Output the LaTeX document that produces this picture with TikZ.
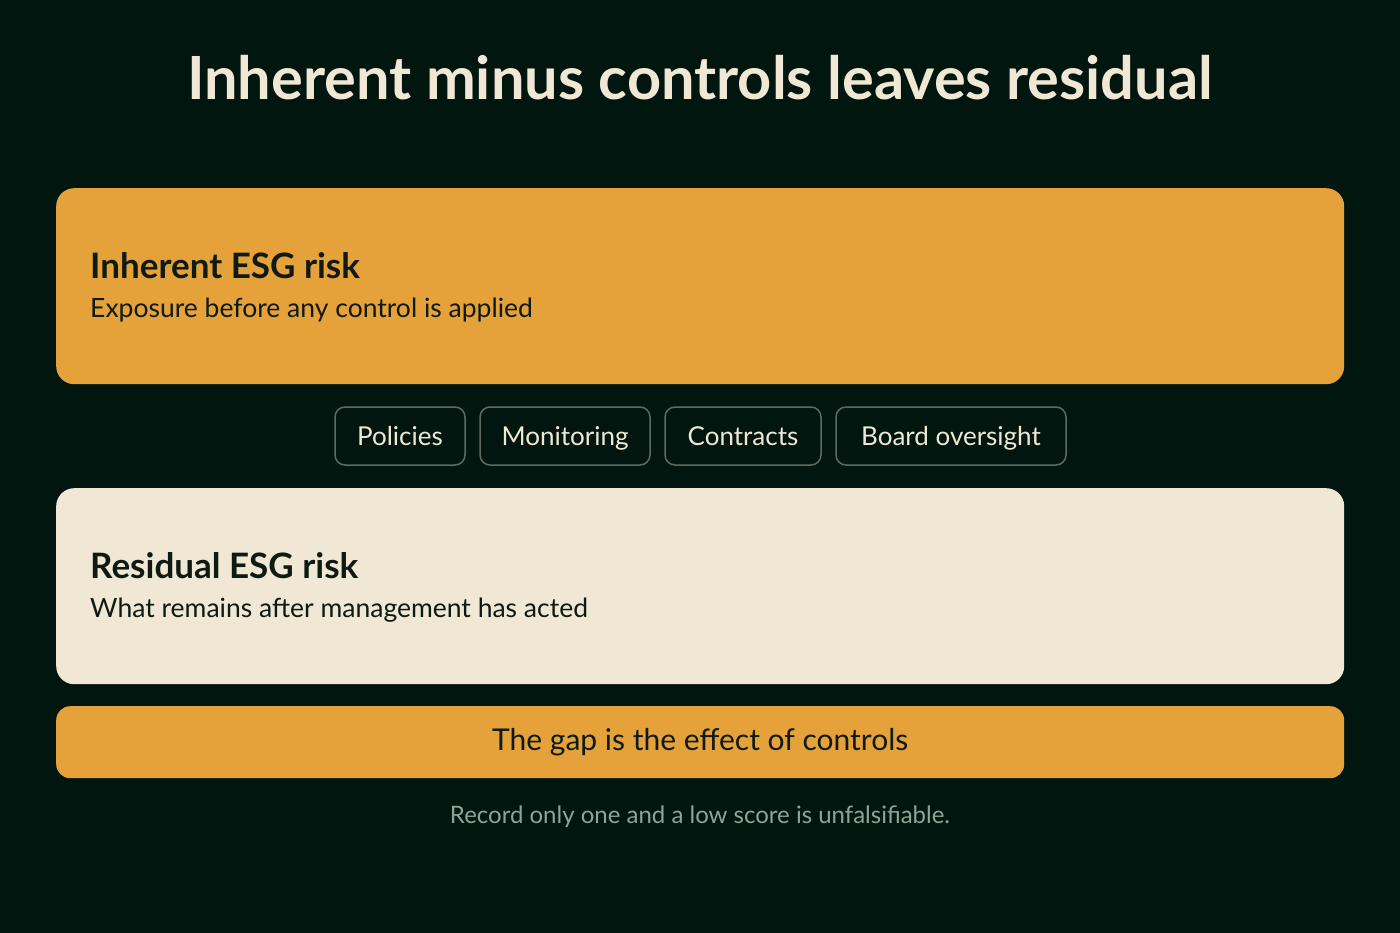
\documentclass[tikz,border=0pt]{standalone}
\usepackage{fontspec}
\setmainfont{Lato}
\definecolor{bgdark}{HTML}{021610}
\definecolor{ochre}{HTML}{E5A13A}
\definecolor{cream}{HTML}{F0E8D4}
\definecolor{chipline}{HTML}{5E6B5E}
\definecolor{notegrey}{HTML}{8FA397}
\definecolor{inkdark}{HTML}{0E1A12}
\begin{document}
\begin{tikzpicture}[x=1pt,y=-1pt]
			\tikzstyle{panel}=[rounded corners=18pt,inner sep=0pt,anchor=north west]
			\tikzstyle{chip}=[draw=chipline,line width=1.5pt,rounded corners=10pt,fill=bgdark,
			  minimum height=58pt,inner sep=0pt,text=cream,text height=18pt,text depth=0pt,
			  font=\fontsize{26}{30}\selectfont]
			\tikzstyle{head}=[anchor=west,inner sep=0pt,text=inkdark,font=\fontsize{35}{40}\selectfont\bfseries]
			\tikzstyle{sub}=[anchor=west,inner sep=0pt,text=inkdark,font=\fontsize{26.5}{30}\selectfont]
			\fill[bgdark] (0,0) rectangle (1400,933);
			\useasboundingbox (0,0) rectangle (1400,933);

			\node[text=cream,font=\fontsize{59.5}{66}\selectfont\bfseries] (title) at (700,78) {Inherent minus controls leaves residual};

			\node[panel,fill=ochre,minimum width=1288pt,minimum height=196pt] (inherent) at (56,188) {};
			\node[head] (inherent-head) at (90,266) {Inherent ESG risk};
			\node[sub] (inherent-sub) at (90,310) {Exposure before any control is applied};

			\node[chip,minimum width=130pt] (policies) at (400,436) {Policies};
			\node[chip,minimum width=170pt] (monitoring) at (565,436) {Monitoring};
			\node[chip,minimum width=156pt] (contracts) at (743,436) {Contracts};
			\node[chip,minimum width=230pt] (board) at (951,436) {Board oversight};

			\node[panel,fill=cream,minimum width=1288pt,minimum height=196pt] (residual) at (56,488) {};
			\node[head] (residual-head) at (90,566) {Residual ESG risk};
			\node[sub] (residual-sub) at (90,610) {What remains after management has acted};

			\node[panel,rounded corners=14pt,fill=ochre,minimum width=1288pt,minimum height=72pt] (gap) at (56,706) {};
			\node[text=inkdark,inner sep=0pt,font=\fontsize{30}{34}\selectfont] (gap-text) at (gap.center) {The gap is the effect of controls};

			\node[text=notegrey,font=\fontsize{24}{28}\selectfont] (note) at (700,817) {Record only one and a low score is unfalsifiable.};
		\end{tikzpicture}
\end{document}
